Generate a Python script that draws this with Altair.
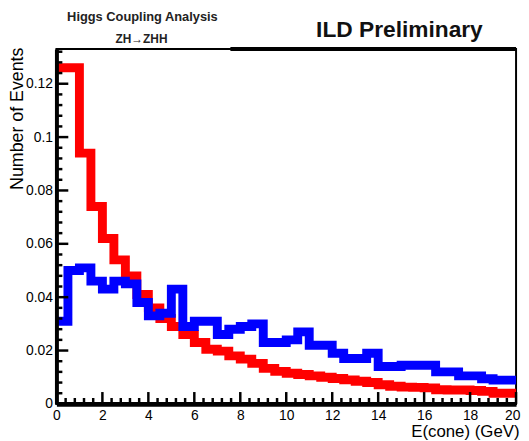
import altair as alt
import pandas as pd

# ---------------- data ----------------
bin_edges = [0.0, 0.5, 1.0, 1.5, 2.0, 2.5, 3.0, 3.5, 4.0, 4.5,
             5.0, 5.5, 6.0, 6.5, 7.0, 7.5, 8.0, 8.5, 9.0, 9.5,
             10.0, 10.5, 11.0, 11.5, 12.0, 12.5, 13.0, 13.5, 14.0, 14.5,
             15.0, 15.5, 16.0, 16.5, 17.0, 17.5, 18.0, 18.5, 19.0, 19.5, 20.0]

red_values = [0.126, 0.126, 0.094, 0.074, 0.062, 0.054, 0.048, 0.041, 0.036, 0.032,
              0.029, 0.026, 0.023, 0.0205, 0.0198, 0.018, 0.0168, 0.0152, 0.0133, 0.0122,
              0.0115, 0.011, 0.0105, 0.0100, 0.0095, 0.0090, 0.0085, 0.0080, 0.0072, 0.0066,
              0.0063, 0.0062, 0.0060, 0.0053, 0.0052, 0.0052, 0.0050, 0.0047, 0.0040, 0.0040]

blue_values = [0.031, 0.050, 0.051, 0.046, 0.043, 0.046, 0.045, 0.038, 0.033, 0.034,
               0.043, 0.029, 0.031, 0.031, 0.026, 0.028, 0.029, 0.030, 0.023, 0.023,
               0.024, 0.027, 0.022, 0.022, 0.019, 0.017, 0.017, 0.019, 0.014, 0.014,
               0.0145, 0.0145, 0.0145, 0.012, 0.012, 0.0105, 0.0105, 0.0094, 0.0089, 0.0089]

x_major = [0, 2, 4, 6, 8, 10, 12, 14, 16, 18, 20]
y_major = [0, 0.02, 0.04, 0.06, 0.08, 0.1, 0.12]
x_minor = [round(i * 0.4, 1) for i in range(51) if i % 5 != 0]
y_minor = [round(i * 0.004, 3) for i in range(34) if i % 5 != 0]

analysis_text = ["Higgs Coupling Analysis"]
channel_text = ["ZH\u2192ZHH"]
ild_text = ["ILD Preliminary"]
x_title = "E(cone) (GeV)"
y_title = "Number of Events"

# ---------------- layout ----------------
W, H = 465, 359
FONT = "Liberation Sans"

xs = alt.Scale(domain=[0, 20], nice=False, zero=False)
ys = alt.Scale(domain=[0, 0.133], nice=False)

x_axis = alt.Axis(values=x_major, format="d", ticks=False, grid=False,
                  domainColor="black", domainWidth=5,
                  labelFont=FONT, labelFontSize=14, labelColor="black",
                  labelPadding=5, labelFlush=True, labelFlushOffset=4,
                  labelOverlap=False,
                  title=x_title, titleFont=FONT, titleFontSize=17,
                  titleFontWeight="normal", titleColor="black",
                  titleAnchor="end", titleAlign="right", titleBaseline="alphabetic",
                  titleX=W + 3, titleY=33, zindex=1)

y_axis = alt.Axis(values=y_major, format="~g", ticks=False, grid=False,
                  domainColor="black", domainWidth=4,
                  labelFont=FONT, labelFontSize=14, labelColor="black",
                  labelPadding=4, labelFlush=False, labelOverlap=False,
                  title=y_title, titleFont=FONT, titleFontSize=18,
                  titleFontWeight="normal", titleColor="black",
                  titleAnchor="end", titleAngle=270, titleAlign="right",
                  titleBaseline="alphabetic", titleX=-34, titleY=-2, zindex=1)


def hist_df(vals):
    return pd.DataFrame({"E": bin_edges, "N": vals + [vals[-1]]})


def step_line(vals, color):
    return alt.Chart(hist_df(vals)).mark_line(
        interpolate="step-after", color=color, strokeWidth=9,
        strokeCap="butt", strokeJoin="miter"
    ).encode(
        x=alt.X("E:Q", scale=xs, axis=x_axis),
        y=alt.Y("N:Q", scale=ys, axis=y_axis),
    )


red_line = step_line(red_values, "#ff0000")
blue_line = step_line(blue_values, "#0000ff")

y_major_ticks = alt.Chart(pd.DataFrame({"N": y_major})).mark_rule(
    color="black", strokeWidth=2.5
).encode(y=alt.Y("N:Q", scale=ys, axis=y_axis), x=alt.value(0), x2=alt.value(12))

y_minor_ticks = alt.Chart(pd.DataFrame({"N": y_minor})).mark_rule(
    color="black", strokeWidth=2.5
).encode(y=alt.Y("N:Q", scale=ys, axis=y_axis), x=alt.value(0), x2=alt.value(6))

x_major_ticks = alt.Chart(pd.DataFrame({"E": x_major})).mark_rule(
    color="black", strokeWidth=2.5
).encode(x=alt.X("E:Q", scale=xs, axis=x_axis), y=alt.value(H), y2=alt.value(H - 12))

x_minor_ticks = alt.Chart(pd.DataFrame({"E": x_minor})).mark_rule(
    color="black", strokeWidth=2.5
).encode(x=alt.X("E:Q", scale=xs, axis=x_axis), y=alt.value(H), y2=alt.value(H - 6))

analysis_label = alt.Chart(pd.DataFrame({"t": analysis_text})).mark_text(
    font=FONT, fontSize=13, fontWeight="bold", color="#222222",
    align="center", baseline="alphabetic"
).encode(text="t:N", x=alt.value(87), y=alt.value(-28))

channel_label = alt.Chart(pd.DataFrame({"t": channel_text})).mark_text(
    font=FONT, fontSize=12, fontWeight="bold", color="#222222",
    align="center", baseline="alphabetic"
).encode(text="t:N", x=alt.value(86), y=alt.value(-6))

ild_label = alt.Chart(pd.DataFrame({"t": ild_text})).mark_text(
    font=FONT, fontSize=23, fontWeight="bold", color="#111111",
    align="center", baseline="alphabetic"
).encode(text="t:N", x=alt.value(347), y=alt.value(-12))

top_edge = alt.Chart(pd.DataFrame({"t": ild_text})).mark_rule(
    color="black", strokeWidth=4
).encode(x=alt.value(176), x2=alt.value(W), y=alt.value(0))

chart = alt.layer(
    red_line, blue_line,
    y_major_ticks, y_minor_ticks, x_major_ticks, x_minor_ticks,
    analysis_label, channel_label, ild_label, top_edge,
).properties(
    width=W, height=H,
    padding={"left": 49, "top": 39, "right": 5, "bottom": 35},
    autosize=alt.AutoSizeParams(type="none"),
).configure_view(stroke="black", strokeWidth=2)

chart.save("out.html", embed_options={"renderer": "svg", "actions": False})
